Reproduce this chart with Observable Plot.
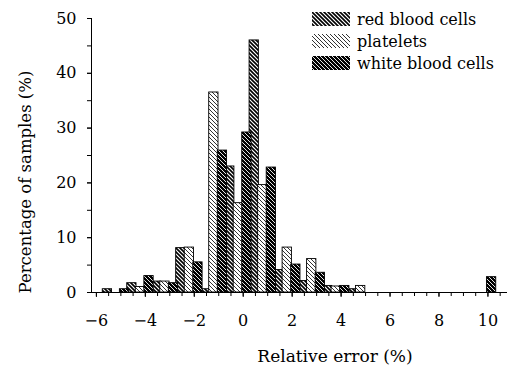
<!DOCTYPE html>
<html><head><meta charset="utf-8">
<script src="https://cdn.jsdelivr.net/npm/d3@7"></script>
<script src="https://cdn.jsdelivr.net/npm/@observablehq/plot@0.6"></script>
<style>
html,body{margin:0;padding:0;background:#fff}
#chart{width:510px;height:386px}
</style>
</head><body><div id="chart"></div>
<script>
// bin centres (relative error, %)
const bins = [-5.2, -4.2, -3.2, -2.2, -1.2, -0.2, 0.8, 1.8, 2.8, 3.8, 4.8, 9.8];
// percentage of samples per bin
const redBloodCells   = [0.6, 1.7, 2.0, 8.1, 0.6, 23.0, 46.0, 4.1, 2.1, 1.2, 0.6, 0];
const platelets       = [0,   1.0, 2.0, 8.2, 36.5, 16.3, 19.6, 8.2, 6.1, 1.1, 1.2, 0];
const whiteBloodCells = [0.6, 3.0, 1.7, 5.5, 25.9, 29.2, 22.8, 5.1, 3.6, 1.2, 0,   2.8];
const seriesNames = ["red blood cells", "platelets", "white blood cells"];
const xTicks = [-6, -4, -2, 0, 2, 4, 6, 8, 10];
const yTicks = [0, 10, 20, 30, 40, 50];
const xDomain = [-6.2, 10.8];
const yDomain = [0, 50];
const xTitle = "Relative error (%)";
const yTitle = "Percentage of samples (%)";

const seriesValues = [redBloodCells, platelets, whiteBloodCells];
const offsets = [-0.35, 0, 0.35];
const halfW = 0.19;
const rows = seriesValues.map((vals, i) =>
  bins.map((b, j) => ({x1: b + offsets[i] - halfW, x2: b + offsets[i] + halfW, y: vals[j]}))
      .filter(d => d.y > 0));

const font = "'DejaVu Serif', serif";
const plot = Plot.plot({
  width: 510, height: 386,
  marginLeft: 91, marginRight: 3, marginTop: 18, marginBottom: 94,
  style: {fontFamily: font, fontSize: "16px", color: "black", background: "white"},
  x: {domain: xDomain},
  y: {domain: yDomain},
  marks: [
    ...rows.map((r, i) => Plot.rectY(r, {x1: "x1", x2: "x2", y: "y", fill: `url(#pat${i})`, stroke: "black", strokeWidth: 0.9})),
    Plot.ruleY([yDomain[0]], {x1: xDomain[0], x2: xDomain[1], stroke: "black"}),
    Plot.ruleX([xDomain[0]], {y1: yDomain[0], y2: yDomain[1], stroke: "black"}),
    Plot.axisX(d3.range(-6, 10.81, 0.5), {tickSize: 4, tickFormat: () => "", label: null}),
    Plot.axisX(xTicks, {tickSize: 5, tickPadding: 17, label: null, fontSize: 16}),
    Plot.axisY(d3.range(0, 50.01, 5), {tickSize: 4, tickFormat: () => "", label: null}),
    Plot.axisY(yTicks, {tickSize: 4, tickPadding: 11, label: null, fontSize: 16})
  ]
});

const svg = d3.select(plot);
const defs = svg.insert("defs", ":first-child");
function hatch(id, bg, fg, sw) {
  const p = defs.append("pattern").attr("id", id).attr("patternUnits", "userSpaceOnUse")
    .attr("width", 4).attr("height", 4);
  p.append("rect").attr("width", 4).attr("height", 4).attr("fill", bg);
  p.append("path").attr("d", "M-1,3 l2,2 M0,0 l4,4 M3,-1 l2,2")
    .attr("stroke", fg).attr("stroke-width", sw).attr("fill", "none");
}
hatch("pat0", "white", "black", 1.6);
hatch("pat1", "white", "#333", 1.0);
hatch("pat2", "black", "white", 0.9);

// axis titles
svg.append("text").attr("transform", "translate(335,356)")
  .attr("text-anchor", "middle").attr("dominant-baseline", "central")
  .attr("font-family", font).attr("font-size", 17).attr("fill", "black").text(xTitle);
svg.append("text").attr("transform", "translate(25,182) rotate(-90)")
  .attr("text-anchor", "middle").attr("dominant-baseline", "central")
  .attr("font-family", font).attr("font-size", 16.5).attr("fill", "black").text(yTitle);

// legend
const leg = svg.append("g").attr("font-family", font).attr("font-size", 16).attr("text-anchor", "start");
seriesNames.forEach((n, i) => {
  const y0 = 12 + i * 22;
  leg.append("rect").attr("x", 312).attr("y", y0).attr("width", 38).attr("height", 14).attr("fill", `url(#pat${i})`);
  leg.append("text").attr("x", 357).attr("y", y0 + 13).attr("fill", "black").text(n);
});

document.getElementById("chart").append(plot);
</script>
</body></html>
